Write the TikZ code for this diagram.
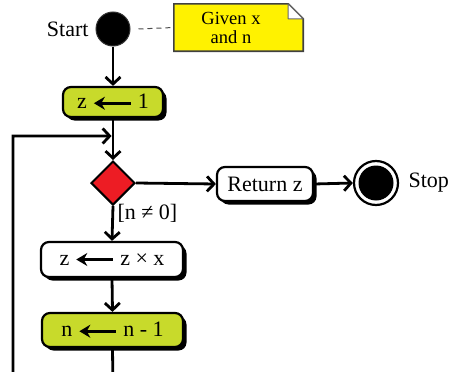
\documentclass[tikz,border=0pt]{standalone}
\usepackage{fontspec}
\setmainfont{Liberation Serif}
\usetikzlibrary{shapes.geometric,arrows.meta,shadows}
\definecolor{lime}{HTML}{C8DA2B}
\definecolor{ured}{HTML}{ED1C24}
\definecolor{nyel}{HTML}{FFF200}
\newcommand{\asgn}{\tikz[baseline=-0.55ex]\draw[line width=3pt,{Stealth[length=11pt,width=13pt]}-] (0,0) -- (37pt,0);}
\begin{document}
\begin{tikzpicture}[x=1pt,y=-1pt,
  font=\fontsize{22}{24}\selectfont,
  conn/.style={line width=2.8pt,-{Straight Barb[length=7pt,width=15pt,line width=2.8pt]}},
  plain/.style={line width=2.8pt},
  actbox/.style={rectangle,rounded corners=8pt,draw=black,line width=2.2pt,inner sep=0pt,
     drop shadow={shadow xshift=3.5pt,shadow yshift=-3.5pt,fill=black,opacity=1}},
  dec/.style={diamond,draw=black,line width=2pt,fill=ured,minimum width=44pt,minimum height=44pt,inner sep=0pt}
]
\useasboundingbox (0,0) rectangle (450,372);
\clip (0,0) rectangle (450,372);
% start
\node[circle,fill=black,draw=black!80,line width=1pt,minimum size=34pt,inner sep=0pt] (start) at (113,29) {};
\node[anchor=east] (startlbl) at (92,29) {Start};
% note
\node[minimum width=129pt,minimum height=47pt,inner sep=0pt] (note) at (238.5,27.5) {};
\draw[draw=black!75,line width=1.6pt,fill=nyel]
  (note.south west) -- (note.north west) -- ([xshift=-15pt]note.north east)
  -- ([yshift=-15pt]note.north east) -- (note.south east) -- cycle;
\draw[draw=black!60,line width=1pt,fill=white,line join=round]
  ([xshift=-15pt]note.north east) -- ([xshift=-15pt,yshift=-15pt]note.north east)
  -- ([yshift=-15pt]note.north east) -- cycle;
\node[align=center,font=\fontsize{18.5}{18.5}\selectfont,inner sep=0pt] (notetxt) at (231,28) {Given x\\and n};
\draw[line width=1pt,black!70,dash pattern=on 5pt off 4pt] (start.east) ++(8pt,0) coordinate (d1) -- (note.west);
% boxes
\node[actbox,fill=lime,minimum width=100pt,minimum height=30pt] (z1) at (113,102) {z \asgn\ 1};
\node[dec] (dia) at (113,183) {};
\node[actbox,fill=white,minimum width=96pt,minimum height=34pt] (ret) at (265,184) {Return z};
\node[circle,draw=black,line width=2.2pt,minimum size=44pt,inner sep=0pt] (stop) at (376,183) {};
\node[circle,fill=black,minimum size=35pt,inner sep=0pt] (stopin) at (376,183) {};
\node[anchor=west] (stoplbl) at (405,183) {Stop};
\node[actbox,fill=white,minimum width=142pt,minimum height=35pt] (zx) at (112,259.5) {z \asgn\ z × x};
\node[actbox,fill=lime,minimum width=141pt,minimum height=34pt] (nn) at (112.5,330) {n \asgn\ n - 1};
\node[anchor=west] (cond) at (114,213) {[n ≠ 0]};
% connectors
\coordinate (join) at (113,136);
\coordinate (bot) at (113,390);
\coordinate (botl) at (13,390);
\coordinate (topl) at (13,136);
\draw[conn] (start.south) -- (z1.north);
\draw[plain] (z1.south) -- (join);
\draw[conn] (join) -- (dia.north);
\draw[conn] (dia.east) -- (ret.west);
\draw[conn] (ret.east) -- (stop.west);
\draw[conn] (dia.south) -- (zx.north);
\draw[conn] (zx.south) -- (nn.north);
\draw[conn,shorten >=1.4pt] (nn.south) -- (bot) -- (botl) -- (topl) -- (join);
\end{tikzpicture}
\end{document}
